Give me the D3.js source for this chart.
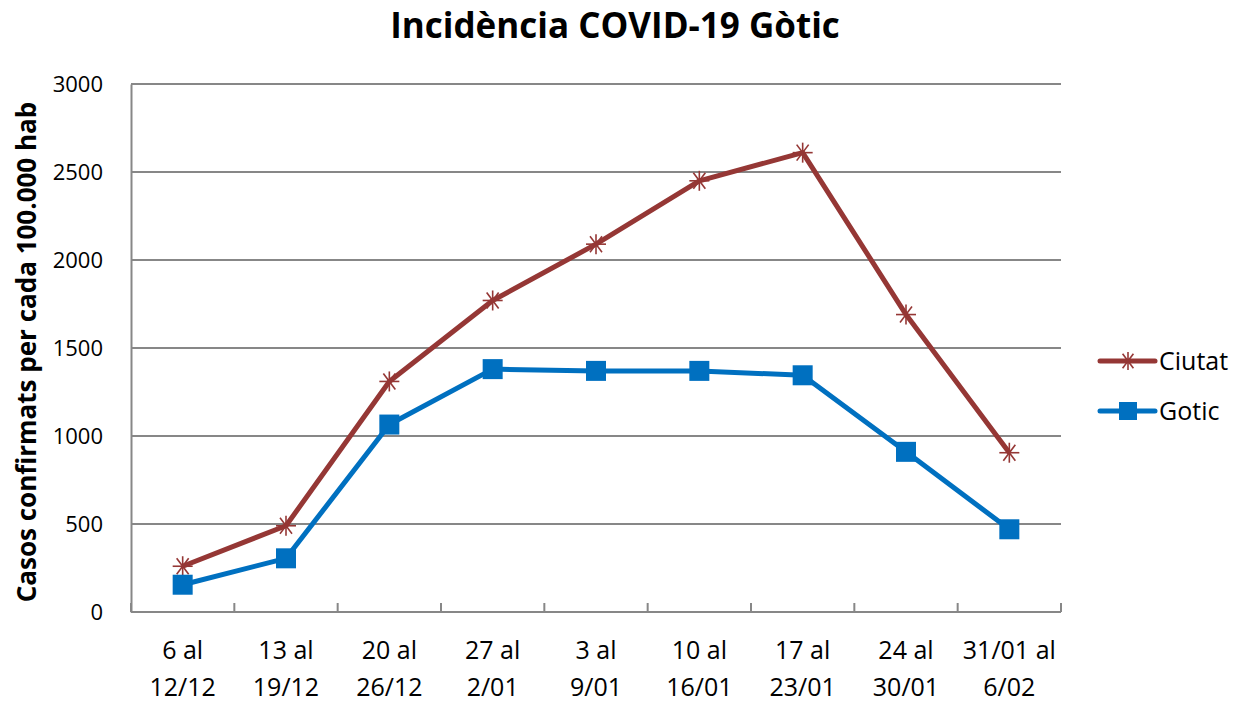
<!DOCTYPE html>
<html>
<head>
<meta charset="utf-8">
<script src="https://cdn.jsdelivr.net/npm/d3@7"></script>
<style>
  body { margin: 0; background: #fff; }
  text { font-family: "Open Sans", "Noto Sans", sans-serif; fill: #000; }
</style>
</head>
<body>
<div id="chart"></div>
<script>
const weeks = [
  ["6 al", "12/12"], ["13 al", "19/12"], ["20 al", "26/12"], ["27 al", "2/01"],
  ["3 al", "9/01"], ["10 al", "16/01"], ["17 al", "23/01"], ["24 al", "30/01"],
  ["31/01 al", "6/02"]
];
const ciutat = [260, 490, 1310, 1770, 2090, 2450, 2610, 1690, 905];
const gotic = [155, 305, 1065, 1380, 1370, 1370, 1345, 910, 470];
const yTicks = [0, 500, 1000, 1500, 2000, 2500, 3000];

const width = 1239, height = 702;
const pLeft = 131, pRight = 1061, pTop = 84, pBottom = 612;

const svg = d3.select("#chart").append("svg")
  .attr("width", width).attr("height", height);

const x = d3.scaleBand().domain(d3.range(weeks.length)).range([pLeft, pRight]);
const y = d3.scaleLinear().domain([0, 3000]).range([pBottom, pTop]);

// gridlines
svg.append("g")
  .selectAll("line").data(yTicks.slice(1)).enter().append("line")
  .attr("x1", pLeft).attr("x2", pRight)
  .attr("y1", d => y(d)).attr("y2", d => y(d))
  .attr("stroke", "#878787").attr("stroke-width", 2);

// y axis
const yAxis = svg.append("g").attr("transform", `translate(${pLeft},0)`)
  .call(d3.axisLeft(y).tickValues(yTicks).tickFormat(d3.format("d")).tickSize(0).tickPadding(28));
yAxis.select(".domain").attr("stroke", "#878787").attr("stroke-width", 2);
yAxis.selectAll("text").style("font-size", "22px")
  .style("font-family", "'Open Sans', sans-serif").attr("fill", "#000");

// x axis with inward ticks at band boundaries
svg.append("line").attr("x1", pLeft).attr("x2", pRight)
  .attr("y1", pBottom).attr("y2", pBottom)
  .attr("stroke", "#878787").attr("stroke-width", 2);
svg.append("g").selectAll("line")
  .data(d3.range(weeks.length + 1)).enter().append("line")
  .attr("x1", d => pLeft + d * x.step()).attr("x2", d => pLeft + d * x.step())
  .attr("y1", pBottom).attr("y2", pBottom - 9)
  .attr("stroke", "#878787").attr("stroke-width", 2);

const xl = svg.append("g").selectAll("text").data(weeks).enter().append("text")
  .attr("text-anchor", "middle")
  .style("font-size", "25px");
xl.append("tspan").attr("x", (d, i) => x(i) + x.bandwidth() / 2).attr("y", 659).text(d => d[0]);
xl.append("tspan").attr("x", (d, i) => x(i) + x.bandwidth() / 2).attr("y", 696).text(d => d[1]);

// title
svg.append("text").attr("x", 615).attr("y", 38).attr("text-anchor", "middle")
  .style("font-size", "35px").style("font-weight", "bold")
  .text("Incidència COVID-19 Gòtic");

// y title
svg.append("text")
  .attr("transform", `translate(36,${(pTop + pBottom) / 2 + 4}) rotate(-90)`)
  .attr("text-anchor", "middle")
  .style("font-size", "26px").style("font-weight", "bold")
  .text("Casos confirmats per cada 100.000 hab");

const line = d3.line().x((d, i) => x(i) + x.bandwidth() / 2).y(d => y(d));
const red = "#953735", blue = "#0070C0";

function star(g, cx, cy, r, color) {
  [[-r, 0, r, 0], [-r * 0.6, -r * 0.8, r * 0.6, r * 0.8], [-r * 0.6, r * 0.8, r * 0.6, -r * 0.8], [0, -r, 0, r]]
    .forEach(s => g.append("line")
      .attr("x1", cx + s[0]).attr("y1", cy + s[1]).attr("x2", cx + s[2]).attr("y2", cy + s[3])
      .attr("stroke", color).attr("stroke-width", 1.6));
}

// Ciutat
svg.append("path").datum(ciutat).attr("d", line)
  .attr("fill", "none").attr("stroke", red).attr("stroke-width", 5)
  .attr("stroke-linejoin", "round");
const cm = svg.append("g");
ciutat.forEach((d, i) => star(cm, x(i) + x.bandwidth() / 2, y(d), 10, red));

// Gotic
svg.append("path").datum(gotic).attr("d", line)
  .attr("fill", "none").attr("stroke", blue).attr("stroke-width", 5)
  .attr("stroke-linejoin", "round");
svg.append("g").selectAll("rect").data(gotic).enter().append("rect")
  .attr("x", (d, i) => x(i) + x.bandwidth() / 2 - 10)
  .attr("y", d => y(d) - 10)
  .attr("width", 20).attr("height", 20).attr("fill", blue);

// legend
const legend = [["Ciutat", red, 361], ["Gotic", blue, 411]];
legend.forEach(([name, color, ly]) => {
  svg.append("line").attr("x1", 1100).attr("x2", 1155).attr("y1", ly).attr("y2", ly)
    .attr("stroke", color).attr("stroke-width", 5).attr("stroke-linecap", "round");
  if (name === "Ciutat") star(svg, 1128, ly, 9, color);
  else svg.append("rect").attr("x", 1119).attr("y", ly - 9).attr("width", 18).attr("height", 18).attr("fill", color);
  svg.append("text").attr("x", 1159).attr("y", ly + 9).style("font-size", "25px").text(name);
});
</script>
</body>
</html>
